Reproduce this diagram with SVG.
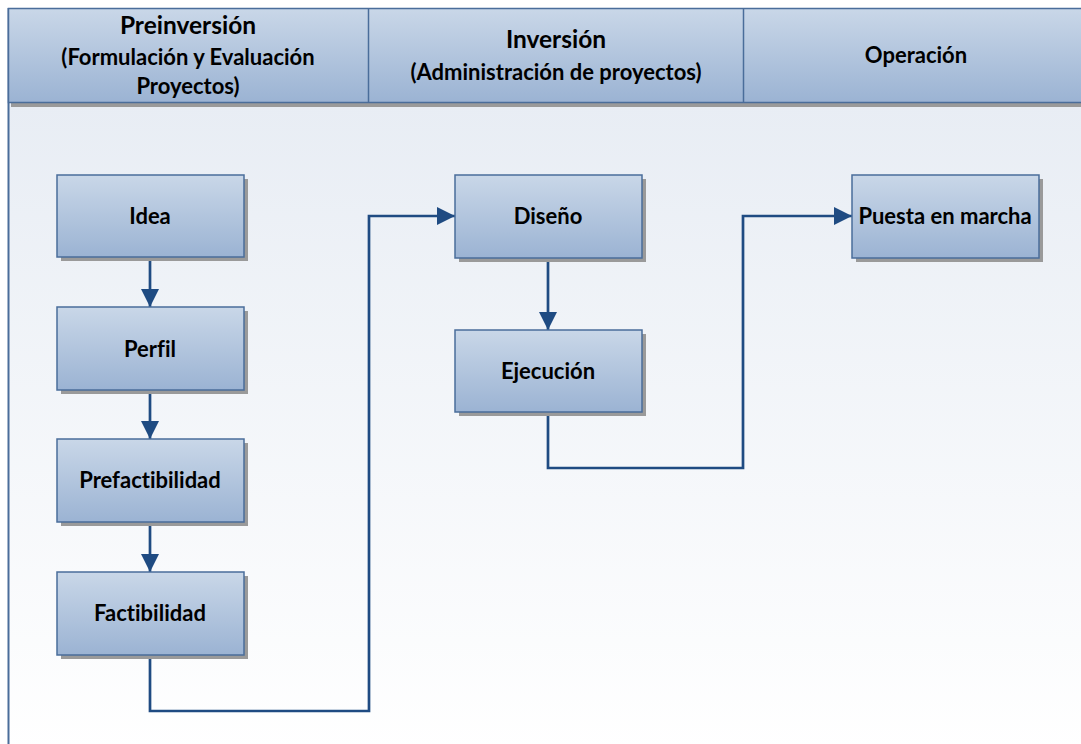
<svg xmlns="http://www.w3.org/2000/svg" width="1081" height="744" viewBox="0 0 1081 744">
  <defs>
    <linearGradient id="boxFill" x1="0" y1="0" x2="0" y2="1">
      <stop offset="0" stop-color="#c9d7e8"/>
      <stop offset="1" stop-color="#9bb3d3"/>
    </linearGradient>
    <linearGradient id="bodyFill" x1="0" y1="0" x2="0" y2="1">
      <stop offset="0" stop-color="#e8edf4"/>
      <stop offset="1" stop-color="#ffffff"/>
    </linearGradient>
    <marker id="arrow" viewBox="0 0 18 18" refX="18" refY="9" markerWidth="18" markerHeight="18" markerUnits="userSpaceOnUse" orient="auto">
      <path d="M0,0 L18,9 L0,18 Z" fill="#1f4b82"/>
    </marker>
  </defs>
  <style>
    .box { fill: url(#boxFill); stroke: #4a6d9a; stroke-width: 1.5; }
    .shadow { fill: #9a9a9a; }
    .lbl { font-family: Lato, "Open Sans", "Liberation Sans", sans-serif; font-weight: bold; fill: #000; text-anchor: middle; font-variant-ligatures: none; }
    .node { font-size: 22px; }
    .head1 { font-size: 24.5px; }
    .head2 { font-size: 22px; }
    .wire { fill: none; stroke: #1f4b82; stroke-width: 2.7; }
  </style>

  <rect width="1081" height="744" fill="#ffffff"/>

  <!-- swimlane body -->
  <rect x="8" y="103" width="1080" height="650" fill="url(#bodyFill)"/>
  <line x1="8.5" y1="8" x2="8.5" y2="744" stroke="#4a6d9a" stroke-width="2"/>

  <!-- lane headers -->
  <g id="headers">
    <rect x="11" y="103" width="1075" height="4" fill="#9a9a9a"/>
    <rect x="8.5" y="8.5" width="1080" height="94" class="box"/>
    <line x1="368.5" y1="8.5" x2="368.5" y2="102.5" stroke="#4a6d9a" stroke-width="1.5"/>
    <line x1="743.5" y1="8.5" x2="743.5" y2="102.5" stroke="#4a6d9a" stroke-width="1.5"/>
    <g id="lane-preinversion">
      <text class="lbl head1" x="188" y="34">Preinversión</text>
      <text class="lbl head2" x="188" y="65">(Formulación y Evaluación</text>
      <text class="lbl head2" x="188" y="94">Proyectos)</text>
    </g>
    <g id="lane-inversion">
      <text class="lbl head1" x="556" y="48">Inversión</text>
      <text class="lbl head2" x="556" y="80">(Administración de proyectos)</text>
    </g>
    <g id="lane-operacion">
      <text class="lbl head2" x="916" y="63">Operación</text>
    </g>
  </g>

  <!-- connectors -->
  <g id="connectors">
    <line class="wire" x1="150" y1="257" x2="150" y2="307" marker-end="url(#arrow)"/>
    <line class="wire" x1="150" y1="390" x2="150" y2="439" marker-end="url(#arrow)"/>
    <line class="wire" x1="150" y1="522" x2="150" y2="572" marker-end="url(#arrow)"/>
    <polyline class="wire" points="150,655 150,711 369,711 369,216 455,216" marker-end="url(#arrow)"/>
    <line class="wire" x1="548" y1="258" x2="548" y2="330" marker-end="url(#arrow)"/>
    <polyline class="wire" points="548,412 548,468 743,468 743,216 852,216" marker-end="url(#arrow)"/>
  </g>

  <!-- process steps -->
  <g id="idea">
    <rect class="shadow" x="61" y="179" width="187" height="82"/>
    <rect class="box" x="57" y="175" width="187" height="82"/>
    <text class="lbl node" x="150" y="224">Idea</text>
  </g>
  <g id="perfil">
    <rect class="shadow" x="61" y="311" width="187" height="83"/>
    <rect class="box" x="57" y="307" width="187" height="83"/>
    <text class="lbl node" x="150" y="357">Perfil</text>
  </g>
  <g id="prefactibilidad">
    <rect class="shadow" x="61" y="443" width="187" height="83"/>
    <rect class="box" x="57" y="439" width="187" height="83"/>
    <text class="lbl node" x="150" y="488">Prefactibilidad</text>
  </g>
  <g id="factibilidad">
    <rect class="shadow" x="61" y="576" width="187" height="83"/>
    <rect class="box" x="57" y="572" width="187" height="83"/>
    <text class="lbl node" x="150" y="621">Factibilidad</text>
  </g>
  <g id="diseno">
    <rect class="shadow" x="459" y="179" width="187" height="83"/>
    <rect class="box" x="455" y="175" width="187" height="83"/>
    <text class="lbl node" x="548" y="224">Diseño</text>
  </g>
  <g id="ejecucion">
    <rect class="shadow" x="459" y="334" width="187" height="82"/>
    <rect class="box" x="455" y="330" width="187" height="82"/>
    <text class="lbl node" x="548" y="379">Ejecución</text>
  </g>
  <g id="puesta-en-marcha">
    <rect class="shadow" x="856" y="179" width="187" height="83"/>
    <rect class="box" x="852" y="175" width="187" height="83"/>
    <text class="lbl node" x="945" y="224">Puesta en marcha</text>
  </g>
</svg>
